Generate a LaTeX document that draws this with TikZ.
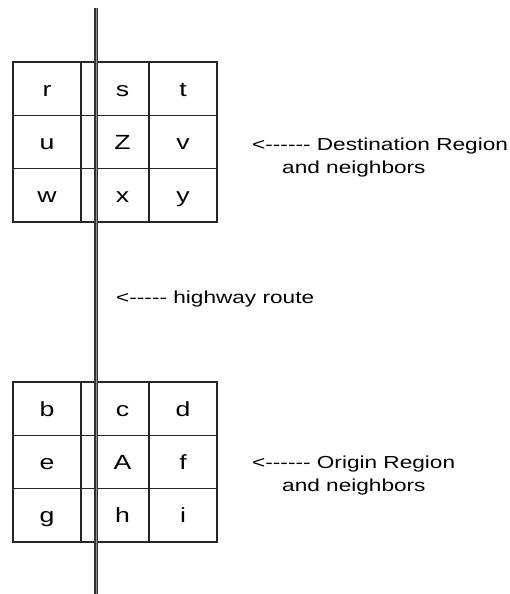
\documentclass[tikz,border=0pt]{standalone}
\usepackage{fontspec}
\newfontfamily\mapfont{Liberation Sans}[FakeStretch=1.3, Ligatures=TeXOff]
\definecolor{roadedge}{HTML}{333333}
\definecolor{roadcore}{HTML}{8C8C8C}

\tikzstyle{cell} = [rectangle, draw=black!85, line width=1.5pt, minimum width=68pt, minimum height=53.3pt, inner sep=0pt, text height=14.7pt, text depth=0pt, font=\mapfont\fontsize{20.5}{20.5}\selectfont]
\tikzstyle{note} = [anchor=north west, inner sep=0pt, align=left, font=\mapfont\fontsize{17.4}{22.5}\selectfont]
\tikzstyle{road} = [line width=1.3pt, draw=roadedge, double=roadcore, double distance=1.6pt]

\begin{document}
\begin{tikzpicture}[x=1pt, y=-1pt]
      \useasboundingbox (0,0) rectangle (510,594);
      % destination region
      \foreach \name/\col/\row in {r/0/0, t/2/0, u/0/1, v/2/1, w/0/2, y/2/2}
        \node[cell] (\name) at ({47+68*\col},{88.7+53.3*\row}) {\name};
      \foreach \name/\row in {s/0, Z/1, x/2}
        \node[cell] (\name) at (115,{88.7+53.3*\row}) {\hspace*{15pt}\name};
      % origin region
      \foreach \name/\col/\row in {b/0/0, d/2/0, e/0/1, f/2/1, g/0/2, i/2/2}
        \node[cell] (\name) at ({47+68*\col},{408.7+53.3*\row}) {\name};
      \foreach \name/\row in {c/0, A/1, h/2}
        \node[cell] (\name) at (115,{408.7+53.3*\row}) {\hspace*{15pt}\name};
      % highway
      \coordinate (start) at (96.3,8);
      \coordinate (end) at (96.3,594);
      \draw[road] (start) -- (end);
      \node[note] (dest) at (252,138) {<------ Destination Region\\\hspace*{30pt}and neighbors};
      \node[note] (route) at (116,291) {<----- highway route};
      \node[note] (orig) at (252,456) {<------ Origin Region\\\hspace*{30pt}and neighbors};
    \end{tikzpicture}
\end{document}
